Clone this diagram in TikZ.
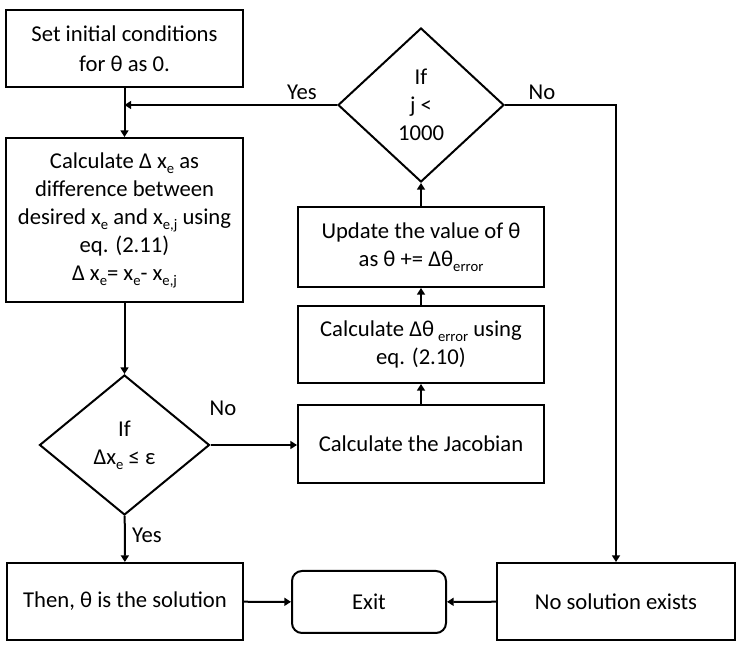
\documentclass[tikz,border=0pt]{standalone}
\usepackage{fontspec}
\setmainfont{Carlito}
\usetikzlibrary{shapes.geometric,arrows.meta}
\newcommand{\lowsub}[1]{\raisebox{-0.45ex}{\fontsize{11}{11}\selectfont #1}}
\begin{document}
\begin{tikzpicture}[x=0.75pt,y=-0.75pt,
  txt/.style={font=\fontsize{17}{21}\selectfont},
  box/.style={draw, line width=1.5pt, align=center, inner sep=0pt, txt},
  sz/.style 2 args={minimum width=#1*0.75pt, minimum height=#2*0.75pt},
  dec/.style={draw, line width=1.5pt, shape=diamond, align=center, inner sep=0pt, txt},
  arr/.style={line width=1.5pt, -{Triangle[length=5pt,width=6pt]}},
  lbl/.style={txt, inner sep=0pt}]
\useasboundingbox (0,0) rectangle (744,652);
\fill[white] (0,0) rectangle (744,652);
\node[box, sz={237}{77}, font=\fontsize{17}{22.5}\selectfont] (init) at (124.5,49) {Set initial conditions\\for θ as 0.};
\node[box, sz={237}{164}] (calc) at (124.5,220) {Calculate Δ x\lowsub{e} as\\difference between\\desired x\lowsub{e} and x\lowsub{e,j} using\\eq. (2.11)\\Δ x\lowsub{e}= x\lowsub{e}- x\lowsub{e,j}};
\node[dec, sz={170}{140}, shape aspect=1.21] (d2) at (124.5,445) {If\\Δx\lowsub{e} ≤ ε};
\node[box, sz={246}{78}] (jac) at (421,444) {Calculate the Jacobian};
\node[box, sz={246}{77}] (dth) at (421,344.5) {Calculate Δθ\,\lowsub{error} using\\eq. (2.10)};
\node[box, sz={246}{80}] (upd) at (421,247) {Update the value of θ\\as θ += Δθ\lowsub{error}};
\node[dec, sz={166}{154}, shape aspect=1.08] (d1) at (421,105) {If\\j <\\1000};
\node[box, sz={236}{77}] (then) at (125,601.5) {Then, θ is the solution};
\node[box, sz={154}{62}, rounded corners=7.5pt] (exit) at (369,602) {Exit};
\node[box, sz={238}{77}] (nosol) at (616,601.5) {No solution exists};
\coordinate (join) at (init.south |- d1.west);
\draw[arr] (init) -- (calc);
\draw[arr] (d1.west) -- (join);
\draw[arr] (calc) -- (d2);
\draw[arr] (d2.east) -- (d2.east -| jac.west);
\draw[arr] (jac) -- (dth);
\draw[arr] (dth) -- (upd);
\draw[arr] (upd) -- (d1);
\draw[arr] (d1.east) -| (nosol.north);
\draw[arr] (d2) -- (then);
\draw[arr] (then) -- (exit);
\draw[arr] (nosol) -- (exit);
\node[lbl] (yes1) at (302,92) {Yes};
\node[lbl] (no1) at (542,92) {No};
\node[lbl] (no2) at (223,408) {No};
\node[lbl] (yes2) at (147,535) {Yes};
\end{tikzpicture}
\end{document}
